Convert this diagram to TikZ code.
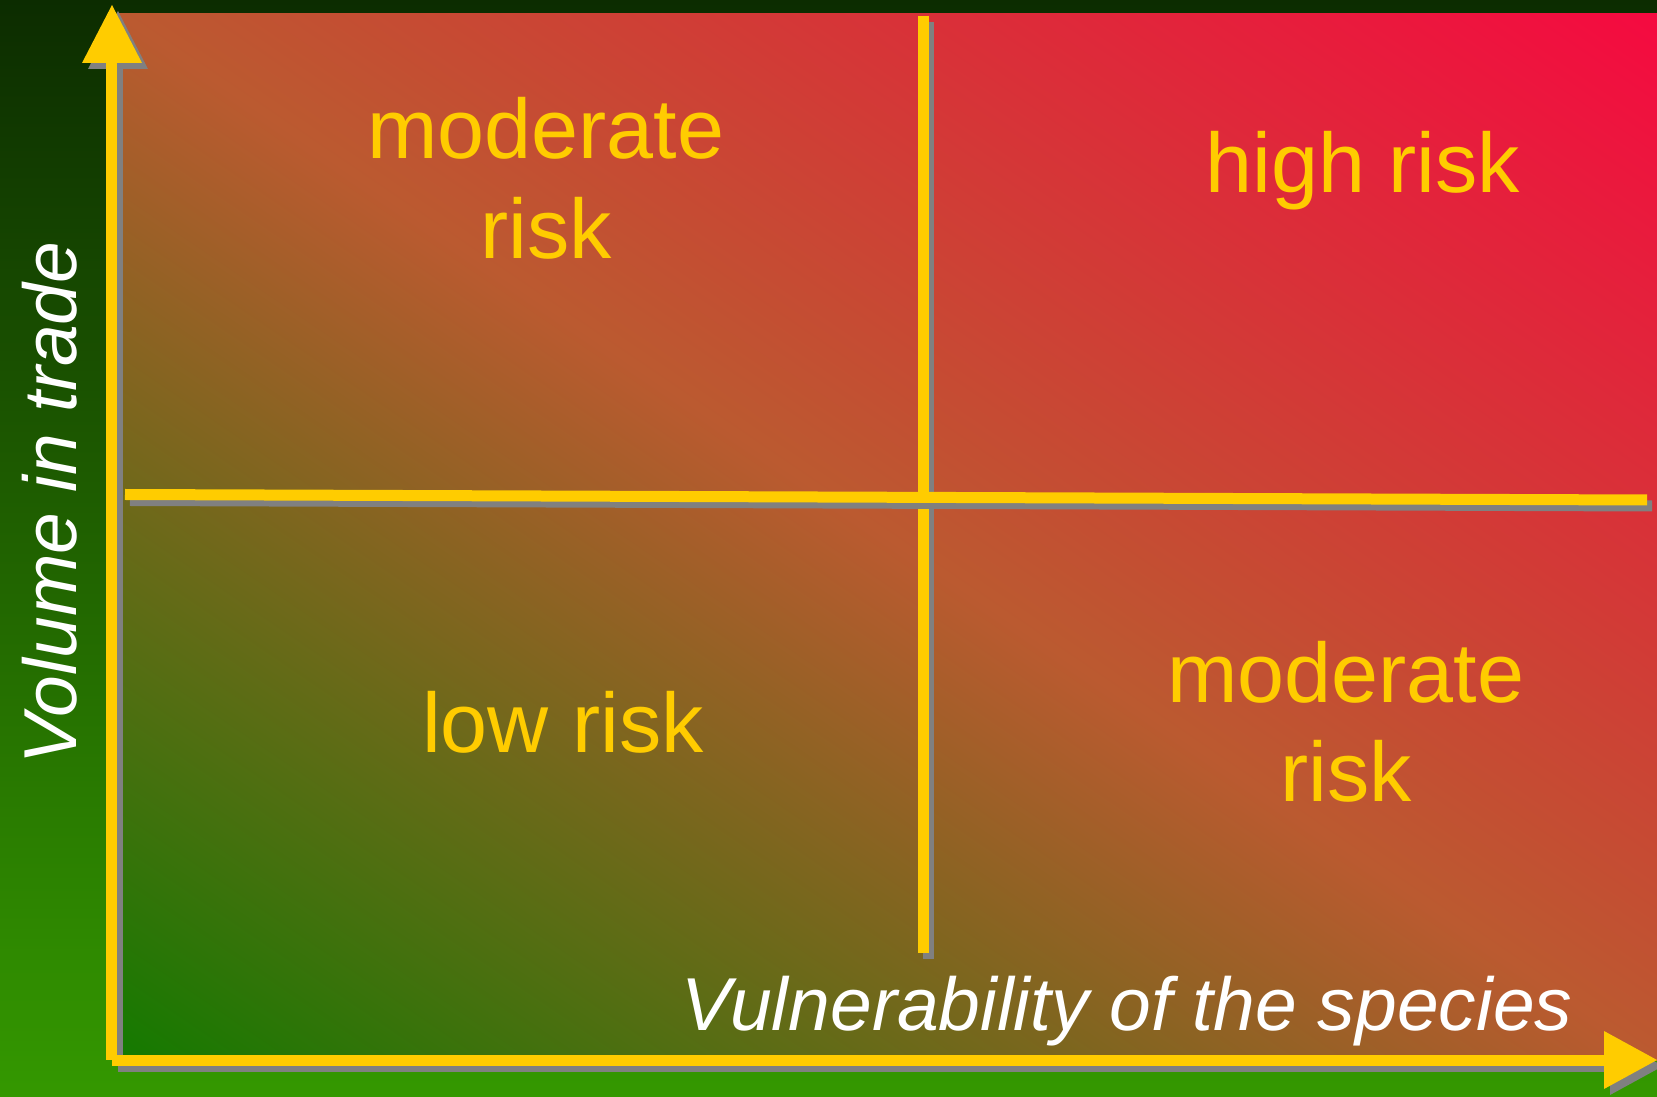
\documentclass[tikz,border=0pt]{standalone}
\usepackage{fontspec}
\setmainfont{Liberation Sans}
\definecolor{bgtop}{HTML}{0C2C00}
\definecolor{bgbot}{HTML}{349800}
\definecolor{qgreen}{HTML}{147A00}
\definecolor{qbrown}{HTML}{BB5A30}
\definecolor{qred}{HTML}{F50A40}
\definecolor{axisyellow}{HTML}{FFCC00}
\definecolor{shadowgray}{HTML}{808080}
\pgfdeclarehorizontalshading{quaddiag}{100bp}{color(0bp)=(qgreen); color(25bp)=(qgreen); color(50bp)=(qbrown); color(75bp)=(qred); color(100bp)=(qred)}
\newcommand{\riskaxesshapes}[1]{%
  \fill[#1] (106,36) rectangle (117,1033);
  \fill[#1] (82,1033) -- (142,1033) -- (112,1091) -- cycle;
  \fill[#1] (112,30) rectangle (1604,41);
  \fill[#1] (1604,65) -- (1604,7) -- (1657,36) -- cycle;
}
\tikzset{
  risklabel/.style={text=axisyellow, font=\fontsize{84.5}{90}\selectfont, anchor=base, inner sep=0pt},
  axislabel/.style={text=white, font=\itshape\fontsize{75}{80}\selectfont, anchor=base, inner sep=0pt},
  shadowfill/.style={fill=shadowgray},
  yellowfill/.style={fill=axisyellow},
  divider/.style={line width=11pt, draw=axisyellow},
  dividershadow/.style={line width=11pt, draw=shadowgray},
}
\begin{document}
\begin{tikzpicture}[x=1pt,y=1pt]
\useasboundingbox (0,0) rectangle (1657,1096);
% background
\shade[top color=bgtop, bottom color=bgbot] (0,0) rectangle (1657,1096);
% quadrant area: diagonal gradient, green (lower left) to red (upper right)
\begin{scope}
  \clip (118,36) rectangle (1657,1082);
  \shade[shading=quaddiag, shading angle=55.8] (22.5,-306) rectangle (1752.5,1424);
\end{scope}
% dividers
\coordinate (vtop) at (923,1080);
\coordinate (vbot) at (923,143);
\coordinate (hleft) at (125,601.5);
\coordinate (hright) at (1647,596);
\draw[dividershadow, transform canvas={shift={(5pt,-6pt)}}] (vtop) -- (vbot);
\draw[divider] (vtop) -- (vbot);
\draw[dividershadow, transform canvas={shift={(5pt,-6pt)}}] (hleft) -- (hright);
\draw[divider] (hleft) -- (hright);
% axes
\begin{scope}[shift={(6,-6)}]
  \riskaxesshapes{shadowfill}
\end{scope}
\riskaxesshapes{yellowfill}
% labels
\node[risklabel] (tl1) at (546,937.5) {moderate};
\node[risklabel] (tl2) at (546,837) {risk};
\node[risklabel] (tr) at (1363,903) {high risk};
\node[risklabel] (bl) at (563,343.5) {low risk};
\node[risklabel] (br1) at (1346,393) {moderate};
\node[risklabel] (br2) at (1346,295) {risk};
\node[axislabel, rotate=90] (ylab) at (76,593) {Volume in trade};
\node[axislabel] (xlab) at (1127,66) {Vulnerability of the species};
\end{tikzpicture}
\end{document}
